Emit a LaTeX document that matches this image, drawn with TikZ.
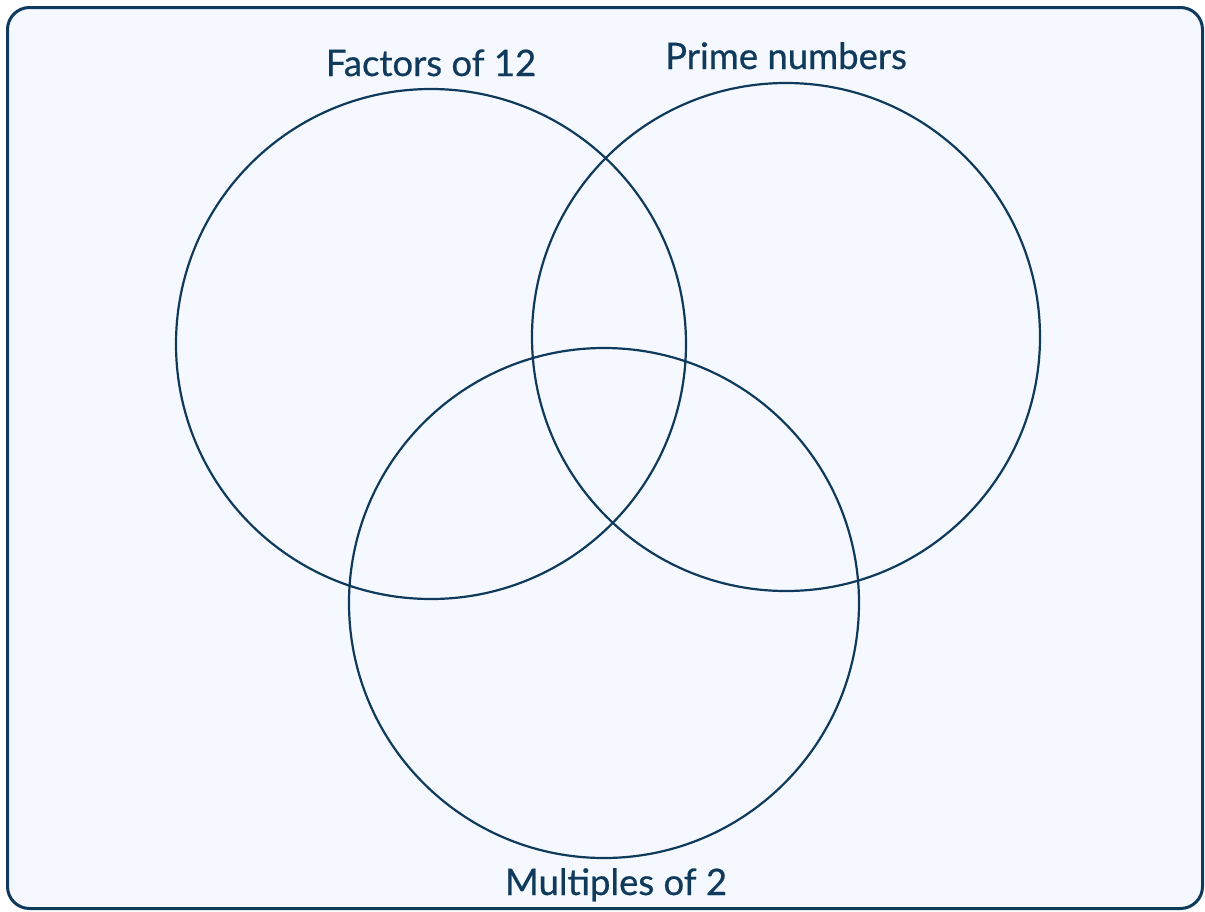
\documentclass[tikz,border=0pt]{standalone}
\usepackage{fontspec}
\setmainfont{Lato}
\newfontfamily\labelfont{Lato}[FakeBold=0.6]
\usepackage{xcolor}
\usepackage{tikz}
\usetikzlibrary{positioning}
\definecolor{navy}{HTML}{0F3A5C}
\definecolor{paper}{HTML}{F5F9FF}

\begin{document}
\begin{tikzpicture}[
    x=1pt, y=-1pt,
    frame/.style={draw=navy, line width=3pt, fill=paper, rounded corners=22pt},
    setcircle/.style={circle, draw=navy, line width=2.2pt, minimum size=510pt, inner sep=0pt},
    setlabel/.style={anchor=base, text=navy, font=\labelfont\fontsize{36.5}{44}\selectfont}
]
    \useasboundingbox (0,0) rectangle (1205,911);
    % Frame
    \draw [frame] (7.5,7.5) rectangle (1202.5,908.5);

    % Sets
    \node (factors) [setcircle] at (431,344) {};
    \node (primes) [setcircle, minimum size=508pt] at (786,337) {};
    \node (multiples) [setcircle] at (604,603) {};

    % Labels
    \node (factors_lbl) [setlabel] at (431,76) {Factors of 12};
    \node (primes_lbl) [setlabel] at (786,69) {Prime numbers};
    \node (multiples_lbl) [setlabel] at (616,895) {Multiples of 2};
\end{tikzpicture}
\end{document}
